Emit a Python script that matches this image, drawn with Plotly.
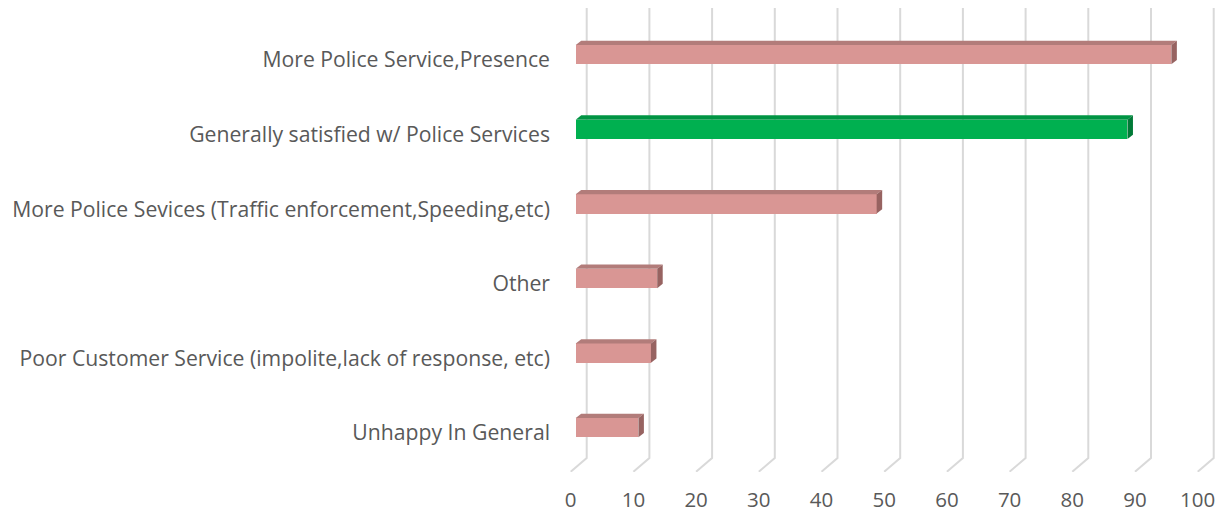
import plotly.graph_objects as go

# ---- data ----
categories = [
    "More Police Service,Presence",
    "Generally satisfied w/ Police Services",
    "More Police Sevices (Traffic enforcement,Speeding,etc)",
    "Other",
    "Poor Customer Service (impolite,lack of response, etc)",
    "Unhappy In General",
]
values = [95, 88, 48, 13, 12, 10]
front_colors = ["#d99694", "#00b050", "#d99694", "#d99694", "#d99694", "#d99694"]
top_colors = ["#b27c7a", "#009443", "#b27c7a", "#b27c7a", "#b27c7a", "#b27c7a"]
side_colors = ["#976361", "#007a37", "#976361", "#976361", "#976361", "#976361"]
x_ticks = [0, 10, 20, 30, 40, 50, 60, 70, 80, 90, 100]

# ---- layout geometry (page pixels) ----
W, H = 1219, 512
PLOT_L, PLOT_R, PLOT_T, PLOT_B = 560, 1219, 8, 472
PX_X = 6.27      # px per value unit
X0_PX = 570.7    # page x of value 0 on floor front edge
PX_Y = 74.6      # px per category
Y0_PX = 60.0     # page y of first category label

def dx(p):
    return p / PX_X

def dy(p):
    return p / PX_Y

def ypix(p):
    return (p - Y0_PX) / PX_Y

x_range = [(PLOT_L - X0_PX) / PX_X, (PLOT_R - X0_PX) / PX_X]
y_range = [ypix(PLOT_B), ypix(PLOT_T)]

idx = list(range(len(categories)))
bar_w = dy(19.3)
bar_shift = dy(5.3)
bar_base = dx(5.0)
depth_x, depth_y = dx(5.5), -dy(4.3)

fig = go.Figure()

fig.add_trace(go.Bar(
    y=idx, x=values, base=bar_base, orientation="h",
    width=bar_w, offset=-bar_shift - bar_w / 2,
    marker=dict(color=front_colors, line=dict(width=0)),
    hoverinfo="skip", showlegend=False,
))

for i, v in enumerate(values):
    yt = i - bar_shift - bar_w / 2
    yb = yt + bar_w
    x0 = bar_base
    x1 = bar_base + v
    fig.add_trace(go.Scatter(
        x=[x0, x1, x1 + depth_x, x0 + depth_x, x0],
        y=[yt, yt, yt + depth_y, yt + depth_y, yt],
        fill="toself", fillcolor=top_colors[i], mode="lines",
        line=dict(width=0, color=top_colors[i]), hoverinfo="skip", showlegend=False,
    ))
    fig.add_trace(go.Scatter(
        x=[x1, x1, x1 + depth_x, x1 + depth_x, x1],
        y=[yt, yb, yb + depth_y, yt + depth_y, yt],
        fill="toself", fillcolor=side_colors[i], mode="lines",
        line=dict(width=0, color=side_colors[i]), hoverinfo="skip", showlegend=False,
    ))

# back-wall gridlines with slanted floor segment
shapes = []
g_top, g_bot, g_floor = ypix(8), ypix(458), ypix(471.7)
for t in x_ticks:
    xb = t + dx(16)
    shapes.append(dict(
        type="path", xref="x", yref="y", layer="below",
        path=f"M {xb},{g_top} L {xb},{g_bot} L {t},{g_floor}",
        line=dict(color="#d9d9d9", width=2),
    ))

fig.update_layout(
    width=W, height=H,
    margin=dict(l=PLOT_L, r=W - PLOT_R, t=PLOT_T, b=H - PLOT_B, pad=0),
    paper_bgcolor="white", plot_bgcolor="white",
    font=dict(family="Open Sans", color="#595959"),
    shapes=shapes,
    xaxis=dict(range=x_range, tickvals=x_ticks, showgrid=False, zeroline=False,
               showline=False, ticks="", tickfont=dict(size=20.5, color="#595959"),
               ticklabelstandoff=13, fixedrange=True, automargin=False),
    yaxis=dict(range=y_range, tickvals=idx, ticktext=categories, showgrid=False,
               zeroline=False, showline=False, ticks="",
               tickfont=dict(size=21.2, color="#595959"),
               ticklabelstandoff=9, fixedrange=True, automargin=False),
    bargap=0,
)

fig.write_html(
    "out.html",
    config={"displayModeBar": False},
    post_script="document.body.style.margin='0px';document.body.style.overflow='hidden';",
)
